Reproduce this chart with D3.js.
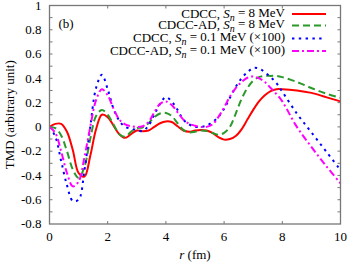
<!DOCTYPE html>
<html>
<head>
<meta charset="utf-8">
<script src="https://cdn.jsdelivr.net/npm/d3@7"></script>
<style>
  body { margin: 0; background: #fff; }
</style>
</head>
<body>
<div id="chart"></div>
<script>
// r grid (fm)
const r = [0, 0.2, 0.4, 0.6, 0.8, 1.0, 1.2, 1.4, 1.6, 1.8, 2.0, 2.2, 2.4, 2.6, 2.8, 3.0, 3.2, 3.4, 3.6, 3.8,
  4.0, 4.2, 4.4, 4.6, 4.8, 5.0, 5.2, 5.4, 5.6, 5.8, 6.0, 6.2, 6.4, 6.6, 6.8, 7.0, 7.2, 7.4, 7.6, 7.8,
  8.0, 8.5, 9.0, 9.5, 10];

const cdcc8 = [0, 0.025, 0.025, -0.04, -0.19, -0.38, -0.41, -0.24, -0.02, 0.1, 0.08, 0.01, -0.06, -0.09, -0.06, -0.03, -0.035, -0.03, 0.0, 0.03,
  0.045, 0.04, 0.005, -0.03, -0.04, -0.03, -0.025, -0.03, -0.05, -0.085, -0.105, -0.1, -0.075, -0.02, 0.06, 0.14, 0.21, 0.26, 0.295, 0.31,
  0.31, 0.3, 0.28, 0.245, 0.21];

const cdccAd8 = [0, -0.01, -0.07, -0.2, -0.35, -0.42, -0.33, -0.1, 0.09, 0.14, 0.1, 0.02, -0.06, -0.08, -0.04, -0.01, -0.005, 0.03, 0.08, 0.11,
  0.115, 0.09, 0.03, -0.025, -0.045, -0.04, -0.03, -0.035, -0.05, -0.065, -0.05, 0.0, 0.11, 0.23, 0.32, 0.38, 0.41, 0.42, 0.42, 0.42,
  0.41, 0.37, 0.32, 0.275, 0.24];

const cdcc01 = [0, -0.08, -0.28, -0.48, -0.61, -0.6, -0.36, 0.0, 0.32, 0.43, 0.31, 0.15, 0.05, 0.0, -0.015, -0.025, -0.035, 0.01, 0.1, 0.19,
  0.245, 0.21, 0.14, 0.06, 0.02, 0.0, 0.0, 0.01, 0.04, 0.08, 0.15, 0.24, 0.33, 0.4, 0.45, 0.485, 0.48, 0.45, 0.41, 0.36,
  0.29, 0.11, -0.045, -0.2, -0.355];

const cdccAd01 = [0, -0.05, -0.2, -0.38, -0.49, -0.45, -0.25, 0.0, 0.22, 0.31, 0.26, 0.15, 0.06, 0.02, 0.005, 0.0, 0.005, 0.04, 0.12, 0.19,
  0.21, 0.18, 0.12, 0.06, 0.025, 0.01, 0.0, 0.0, 0.02, 0.08, 0.16, 0.25, 0.32, 0.37, 0.405, 0.415, 0.40, 0.37, 0.32, 0.27,
  0.21, 0.0, -0.165, -0.32, -0.465];

const xTicks = [0, 2, 4, 6, 8, 10];
const yTicks = [-0.8, -0.6, -0.4, -0.2, 0, 0.2, 0.4, 0.6, 0.8, 1];

const series = [
  { name: "CDCC", sn: "8 MeV", values: cdcc8, color: "#ff0000", dash: null },
  { name: "CDCC-AD", sn: "8 MeV", values: cdccAd8, color: "#2a9a2a", dash: "7,4" },
  { name: "CDCC", sn: "0.1 MeV (\u00d7100)", values: cdcc01, color: "#0000ff", dash: "2.4,4.4" },
  { name: "CDCC-AD", sn: "0.1 MeV (\u00d7100)", values: cdccAd01, color: "#ff00ff", dash: "7,3,2,3" },
];

const width = 349, height = 262;
const margin = { top: 5.5, right: 8.5, bottom: 38, left: 49.5 };

const x = d3.scaleLinear().domain([0, 10]).range([margin.left, width - margin.right]);
const y = d3.scaleLinear().domain([-0.8, 1]).range([height - margin.bottom, margin.top]);

const svg = d3.select("#chart").append("svg")
  .attr("width", width)
  .attr("height", height)
  .attr("font-family", "'Liberation Serif', 'Times New Roman', serif")
  .style("display", "block");

// curves
const line = d3.line()
  .x(d => x(d[0]))
  .y(d => y(d[1]))
  .curve(d3.curveCatmullRom.alpha(0.5));

const plot = svg.append("g");
plot.append("clipPath").attr("id", "clip")
  .append("rect")
  .attr("x", x(0)).attr("y", y(1))
  .attr("width", x(10) - x(0)).attr("height", y(-0.8) - y(1));

series.forEach(s => {
  plot.append("path")
    .attr("clip-path", "url(#clip)")
    .attr("d", line(d3.zip(r, s.values)))
    .attr("fill", "none")
    .attr("stroke", s.color)
    .attr("stroke-width", 2)
    .attr("stroke-dasharray", s.dash);
});

// frame and ticks (inward, mirrored)
const tickLen = 3;
const ax = svg.append("g").attr("stroke", "#777").attr("stroke-width", 1);

ax.append("rect")
  .attr("x", x(0)).attr("y", y(1))
  .attr("width", x(10) - x(0)).attr("height", y(-0.8) - y(1))
  .attr("fill", "none")
  .attr("stroke-width", 1.3);

const yMinor = d3.range(-0.7, 1, 0.1);
yMinor.forEach(v => {
  ax.append("line").attr("x1", x(0)).attr("x2", x(0) + tickLen).attr("y1", y(v)).attr("y2", y(v));
  ax.append("line").attr("x1", x(10)).attr("x2", x(10) - tickLen).attr("y1", y(v)).attr("y2", y(v));
});
xTicks.slice(1, -1).forEach(v => {
  ax.append("line").attr("x1", x(v)).attr("x2", x(v)).attr("y1", y(-0.8)).attr("y2", y(-0.8) - tickLen);
  ax.append("line").attr("x1", x(v)).attr("x2", x(v)).attr("y1", y(1)).attr("y2", y(1) + tickLen);
});

// tick labels
svg.append("g").selectAll("text").data(yTicks).join("text")
  .attr("x", x(0) - 8)
  .attr("y", d => y(d))
  .attr("dy", "0.33em")
  .attr("text-anchor", "end")
  .attr("font-size", 13)
  .text(d => +d.toFixed(1));

svg.append("g").selectAll("text").data(xTicks).join("text")
  .attr("x", d => x(d))
  .attr("y", y(-0.8) + 13)
  .attr("dy", "0.33em")
  .attr("text-anchor", "middle")
  .attr("font-size", 13)
  .text(d => d);

// axis titles
const xt = svg.append("text")
  .attr("x", (x(0) + x(10)) / 2)
  .attr("y", height - 3)
  .attr("text-anchor", "middle")
  .attr("font-size", 13);
xt.append("tspan").attr("font-style", "italic").text("r");
xt.append("tspan").text(" (fm)");

svg.append("text")
  .attr("transform", `translate(14, ${(y(1) + y(-0.8)) / 2}) rotate(-90)`)
  .attr("text-anchor", "middle")
  .attr("font-size", 13)
  .text("TMD (arbitrary unit)");

svg.append("text")
  .attr("x", x(0) + 9)
  .attr("y", 24)
  .attr("dy", "0.33em")
  .attr("font-size", 13)
  .text("(b)");

// legend
const rowY = [13.5, 25, 38, 50.5];
const legend = svg.append("g");
series.forEach((s, i) => {
  const t = legend.append("text")
    .attr("x", 285)
    .attr("y", rowY[i])
    .attr("dy", "0.33em")
    .attr("text-anchor", "end")
    .attr("font-size", 13);
  t.append("tspan").text(s.name + ", ");
  t.append("tspan").attr("font-style", "italic").text("S");
  t.append("tspan").attr("font-style", "italic").attr("font-size", 10).attr("dy", "0.3em").text("n");
  t.append("tspan").attr("dy", "-0.3em").text(" = " + s.sn);

  legend.append("line")
    .attr("x1", 292).attr("x2", 326)
    .attr("y1", rowY[i] + 0.5).attr("y2", rowY[i] + 0.5)
    .attr("stroke", s.color)
    .attr("stroke-width", 2)
    .attr("stroke-dasharray", s.dash);
});
</script>
</body>
</html>
